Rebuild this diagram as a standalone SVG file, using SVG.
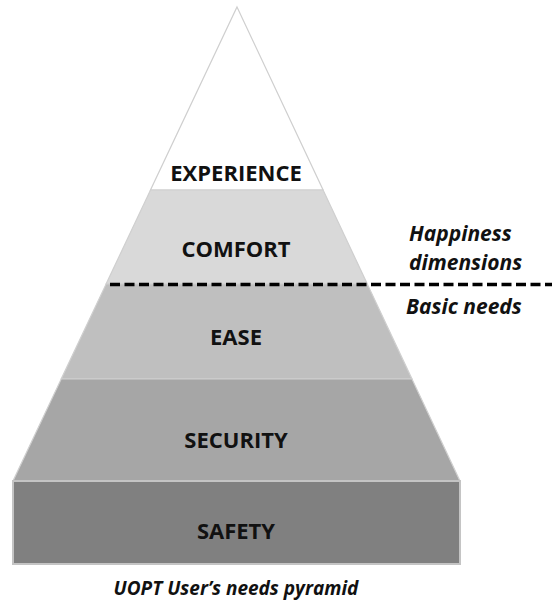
<svg xmlns="http://www.w3.org/2000/svg" width="552" height="604" viewBox="0 0 552 604">
  <style>
    .band { stroke: #cfcfcf; stroke-width: 1.2; stroke-linejoin: miter; }
    .lbl { font-family: "Open Sans", "Liberation Sans", sans-serif; font-weight: 700; font-size: 22px; fill: #111; text-anchor: middle; }
    .side { font-family: "Open Sans", "Liberation Sans", sans-serif; font-weight: 700; font-style: italic; font-size: 21px; fill: #111; }
    .cap { font-family: "Open Sans", "Liberation Sans", sans-serif; font-weight: 700; font-style: italic; font-size: 19px; fill: #111; text-anchor: middle; }
  </style>
  <rect width="552" height="604" fill="#ffffff"/>
  <g id="experience">
    <polygon class="band" points="237,7 323.1,190 150.5,190" fill="#ffffff"/>
    <text class="lbl" x="236" y="181">EXPERIENCE</text>
  </g>
  <g id="comfort">
    <polygon class="band" points="150.5,190 323.1,190 367.3,284 106.1,284" fill="#d9d9d9"/>
    <text class="lbl" x="236" y="257">COMFORT</text>
  </g>
  <g id="ease">
    <polygon class="band" points="106.1,284 367.3,284 412,379 61.2,379" fill="#bfbfbf"/>
    <text class="lbl" x="236" y="345">EASE</text>
  </g>
  <g id="security">
    <polygon class="band" points="61.2,379 412,379 460,481 13,481" fill="#a6a6a6"/>
    <text class="lbl" x="236" y="448">SECURITY</text>
  </g>
  <g id="safety">
    <rect x="13" y="481" width="447" height="83" fill="#808080" stroke="#c4c4c4" stroke-width="2"/>
    <text class="lbl" x="236" y="539">SAFETY</text>
  </g>
  <g id="connectors">
    <line x1="110" y1="284.5" x2="552" y2="284.5" stroke="#000" stroke-width="3.5" stroke-dasharray="10 4.5"/>
  </g>
  <g id="labels">
    <text class="side" x="409" y="241">Happiness</text>
    <text class="side" x="409" y="270">dimensions</text>
    <text class="side" x="406" y="314">Basic needs</text>
    <text class="cap" x="236" y="595">UOPT User’s needs pyramid</text>
  </g>
</svg>
